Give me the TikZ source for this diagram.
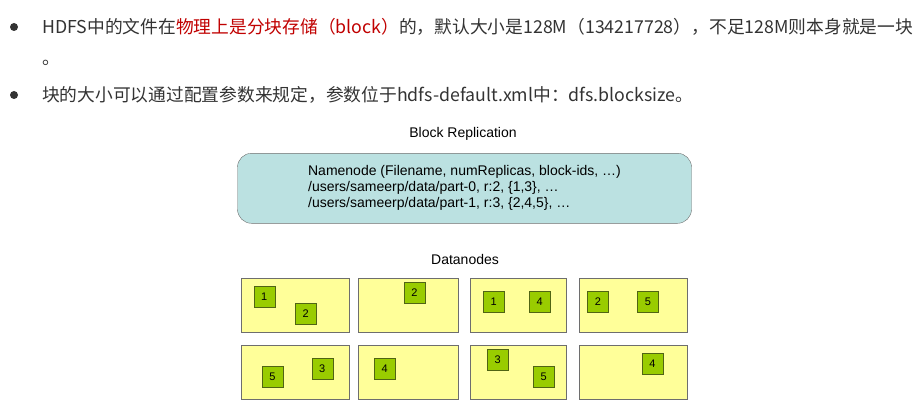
\documentclass[tikz,border=0pt]{standalone}
\usepackage{fontspec}
\usepackage{xcolor}
\setsansfont{Liberation Sans}
\newfontfamily\cjk{Noto Sans CJK SC}
\usetikzlibrary{positioning}
\definecolor{txtgray}{RGB}{51,51,51}
\definecolor{txtred}{RGB}{192,0,0}
\definecolor{namefill}{RGB}{187,225,225}
\definecolor{nodefill}{RGB}{255,255,153}
\definecolor{blockfill}{RGB}{153,204,0}
\definecolor{blockline}{RGB}{80,100,20}
\definecolor{boxline}{RGB}{110,110,110}

\begin{document}
\begin{tikzpicture}[
    x=1pt,y=-1pt,
    bullet/.style={circle,fill=txtgray,inner sep=0pt,minimum size=8pt},
    line/.style={anchor=west,inner sep=0pt,text=txtgray,font=\cjk\fontsize{17.75}{20}\selectfont},
    title/.style={font=\sffamily\fontsize{14}{16}\selectfont,inner sep=0pt},
    namenode/.style={rectangle,rounded corners=14pt,draw=boxline,fill=namefill,
      minimum width=454pt,minimum height=70pt,align=left,
      font=\sffamily\fontsize{14}{16}\selectfont},
    datanode/.style={rectangle,draw=boxline,fill=nodefill,minimum height=54pt},
    block/.style={rectangle,draw=blockline,fill=blockfill,minimum size=21pt,inner sep=0pt,
      font=\sffamily\fontsize{11}{12}\selectfont}
  ]
    \useasboundingbox (0,0) rectangle (920,409);
    % text above the picture
    \node[bullet] (dot1) at (14,27) {};
    \node[bullet] (dot2) at (14,95) {};
    \node[line] (line1) at (42,27) {HDFS中的文件在\textcolor{txtred}{物理上是分块存储（block）}的，默认大小是128M（134217728），不足128M则本身就是一块};
    \node[line] (line1b) at (42,63) {。};
    \node[line] (line2) at (42,95) {块的大小可以通过配置参数来规定，参数位于hdfs-default.xml中：dfs.blocksize。};

    % namenode
    \node[title] (reptitle) at (463,134) {Block Replication};
    \node[namenode] (name) at (464.5,188.3) {Namenode (Filename, numReplicas, block-ids, \dots)\\
      /users/sameerp/data/part-0, r:2, \{1,3\}, \dots\\
      /users/sameerp/data/part-1, r:3, \{2,4,5\}, \dots};

    % datanodes
    \node[title] (dntitle) at (465,259) {Datanodes};
    \node[datanode,minimum width=108pt] (dn1) at (295.3,305.3) {};
    \node[datanode,minimum width=100pt] (dn2) at (408.3,305.3) {};
    \node[datanode,minimum width=96pt] (dn3) at (518.3,305.3) {};
    \node[datanode,minimum width=108.7pt] (dn4) at (633.3,305.3) {};
    \node[datanode,minimum width=108pt] (dn5) at (295.3,372.3) {};
    \node[datanode,minimum width=100pt] (dn6) at (408.3,372.3) {};
    \node[datanode,minimum width=96pt] (dn7) at (518.3,372.3) {};
    \node[datanode,minimum width=108.7pt] (dn8) at (633.3,372.3) {};

    % blocks
    \node[block] (dn1a) at (264.3,296.8) {1};
    \node[block] (dn1b) at (305.8,313.8) {2};
    \node[block] (dn2a) at (414.5,292.8) {2};
    \node[block] (dn3a) at (493.8,301.8) {1};
    \node[block] (dn3b) at (539.8,301.8) {4};
    \node[block] (dn4a) at (597.8,301.8) {2};
    \node[block] (dn4b) at (647.8,301.8) {5};
    \node[block] (dn5a) at (272.5,376.8) {5};
    \node[block] (dn5b) at (322.3,368.3) {3};
    \node[block] (dn6a) at (384.8,368.3) {4};
    \node[block] (dn7a) at (497.8,359.8) {3};
    \node[block] (dn7b) at (543.8,376.8) {5};
    \node[block] (dn8a) at (652.5,363.8) {4};
  \end{tikzpicture}
\end{document}
